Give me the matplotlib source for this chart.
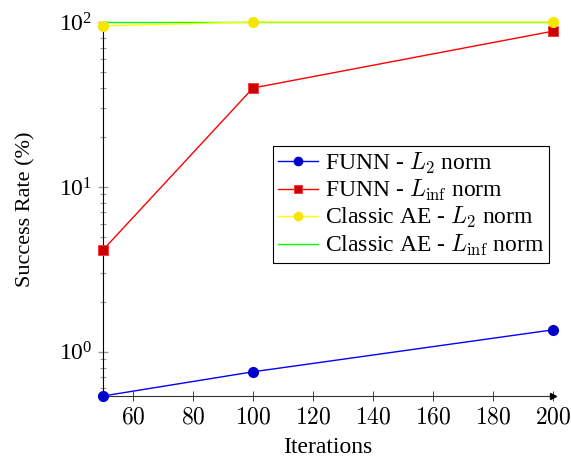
import matplotlib
matplotlib.use("Agg")
import matplotlib.pyplot as plt
from matplotlib.ticker import LogLocator, FixedLocator, NullFormatter

plt.rcParams['font.family'] = ['Liberation Serif', 'DejaVu Serif']
plt.rcParams['mathtext.fontset'] = 'cm'

iterations = [50, 100, 200]
funn_l2 = [0.54, 0.757, 1.36]
funn_linf = [4.15, 39.8, 88.0]
ae_l2 = [94.6, 100.0, 100.0]
ae_linf = [100.0, 100.0, 100.0]
x_ticks = [60, 80, 100, 120, 140, 160, 180, 200]

fig = plt.figure(figsize=(5.71, 4.57), dpi=100)
ax = fig.add_axes([103/571, 1-396/457, 450/571, 374/457])

ax.plot(iterations, funn_l2, color='#0000ff', lw=1.0, marker='o', ms=7,
        mfc='#0000cc', mec='#0000cc', label=r'FUNN - $L_2$ norm', clip_on=False, zorder=5)
ax.plot(iterations, funn_linf, color='#ff0000', lw=1.0, marker='s', ms=7,
        mfc='#cc0000', mec='#ff3030', mew=0.6, label=r'FUNN - $L_{\rm inf}$ norm', clip_on=False, zorder=5)
ax.plot(iterations, ae_l2, color='#ffff00', lw=1.0, marker='o', ms=7,
        mfc='#f5e600', mec='#f5e600', label=r'Classic AE - $L_2$ norm', clip_on=False, zorder=6)
ax.plot(iterations, ae_linf, color='#00ff00', lw=1.0,
        label=r'Classic AE - $L_{\rm inf}$ norm', clip_on=False, zorder=4)

ax.set_yscale('log')
ax.set_xlim(50, 200)
ax.set_ylim(0.54, 100)
ax.xaxis.set_major_locator(FixedLocator(x_ticks))
ax.yaxis.set_major_locator(LogLocator(base=10, numticks=10))
ax.yaxis.set_minor_locator(LogLocator(base=10, subs=range(2, 10), numticks=20))
ax.yaxis.set_minor_formatter(NullFormatter())

for s in ['top', 'right']:
    ax.spines[s].set_visible(False)
for s in ['left', 'bottom']:
    ax.spines[s].set_linewidth(0.8)
ax.spines['bottom'].set_color('#333333')

ax.tick_params(axis='x', direction='inout', length=7, width=0.6, color='#222222',
               labelsize=17, pad=5)
ax.tick_params(axis='y', which='major', direction='inout', length=7, width=1.0,
               color='#999999', labelsize=17, pad=4)
ax.tick_params(axis='y', which='minor', direction='inout', length=5, width=0.8,
               color='#999999')
ax.xaxis.set_major_formatter(matplotlib.ticker.FuncFormatter(lambda v, p: r'$%d$' % v))

# arrow at the end of the x-axis
ax.plot(1, 0, marker='>', color='k', ms=5, transform=ax.transAxes, clip_on=False, zorder=3)

ax.set_xlabel('Iterations', fontsize=17, labelpad=6)
ax.set_ylabel('Success Rate (%)', fontsize=16, labelpad=8)
ax.yaxis.set_label_coords(-0.15, 0.5)

leg = ax.legend(loc='upper left', bbox_to_anchor=(273/571, 1-146/457),
                bbox_transform=fig.transFigure, fontsize=17, frameon=True,
                fancybox=False, edgecolor='black', framealpha=1,
                handlelength=1.7, handletextpad=0.3, borderpad=0.2,
                labelspacing=0.1, borderaxespad=0, markerscale=0.85)
leg.get_frame().set_linewidth(0.8)

fig.savefig('out.png', dpi=100)
